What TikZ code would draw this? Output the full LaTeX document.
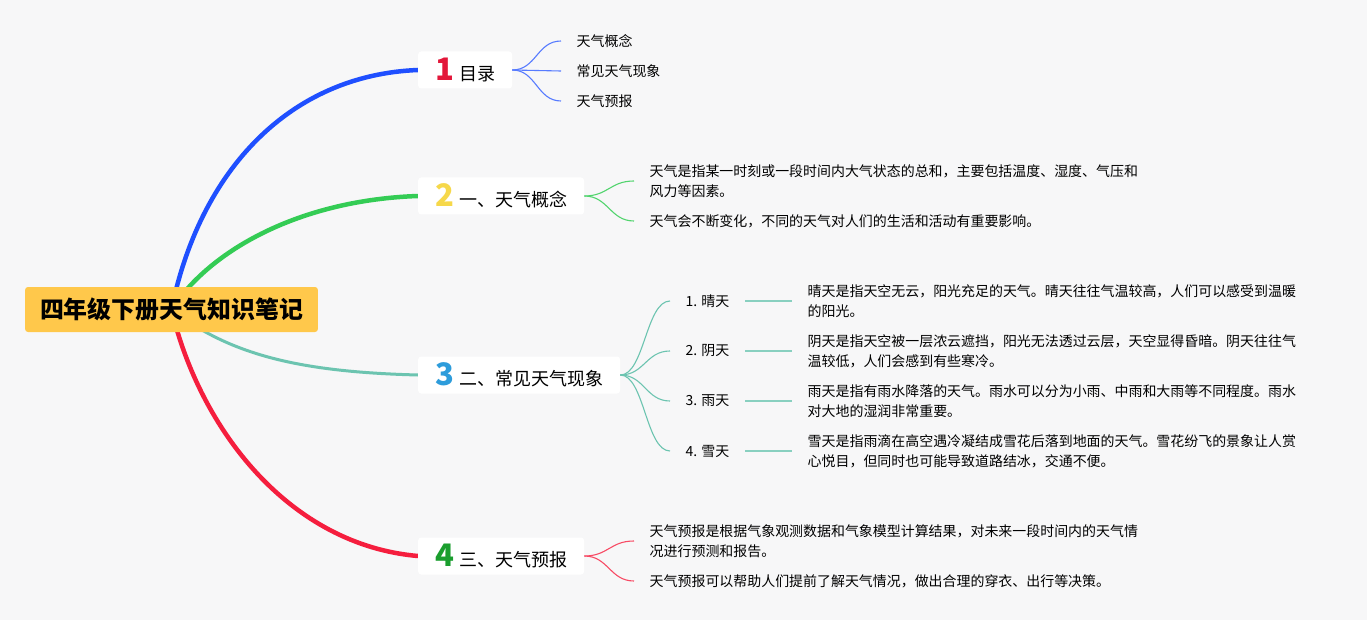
\documentclass[tikz,border=0pt]{standalone}
\usepackage{fontspec}
\setmainfont{Noto Sans CJK SC}
\usepackage{tikz}
\usetikzlibrary{positioning, backgrounds}
\definecolor{bgcol}{HTML}{F7F7F8}
\definecolor{rootcol}{HTML}{FFC84B}
\definecolor{bluecol}{HTML}{1F4FFF}
\definecolor{greencol}{HTML}{34CC55}
\definecolor{tealcol}{HTML}{6CC4B0}
\definecolor{redcol}{HTML}{F51E3E}
\definecolor{numred}{HTML}{E3173A}
\definecolor{numyellow}{HTML}{F6D84A}
\definecolor{numblue}{HTML}{2D9CDB}
\definecolor{numgreen}{HTML}{1A9E2E}
\tikzset{
  rootbox/.style={
    rectangle,
    fill=rootcol,
    rounded corners=3pt,
    inner xsep=15pt,
    minimum height=45pt,
    font=\fontsize{23.9}{28}\selectfont\bfseries
  },
  topic/.style={
    rectangle,
    fill=white,
    rounded corners=3pt,
    anchor=west,
    inner xsep=17pt,
    minimum height=37pt,
    font=\fontsize{18}{21}\selectfont
  },
  leaf/.style={
    anchor=west,
    inner xsep=15.5pt,
    inner ysep=2pt,
    align=left,
    font=\fontsize{13.95}{20}\selectfont
  },
  twig/.style={
    line width=1.1pt
  }
}
\newcommand{\topicnum}[2]{{\color{#1}\fontsize{31}{31}\selectfont\bfseries #2}\hspace{5pt}}

\begin{document}
\begin{tikzpicture}[x=1pt, y=-1pt]
  \path[use as bounding box] (0,0) rectangle (1367,620);

  % Root
  \node[rootbox] (root) at (171.5,309.5) {四年级下册天气知识笔记};

  % Topics
  \node[topic] (toc) at (418,70) {\topicnum{numred}{1}目录};
  \node[topic] (concept) at (418,196) {\topicnum{numyellow}{2}一、天气概念};
  \node[topic] (common) at (418,375) {\topicnum{numblue}{3}二、常见天气现象};
  \node[topic] (forecast) at (418,556) {\topicnum{numgreen}{4}三、天气预报};

  % Leaves of topic 1
  \node[leaf] (toc1) at (561,41) {天气概念};
  \node[leaf] (toc2) at (561,71) {常见天气现象};
  \node[leaf] (toc3) at (561,101) {天气预报};

  % Leaves of topic 2
  \node[leaf] (concept1) at (634,181) {天气是指某一时刻或一段时间内大气状态的总和，主要包括温度、湿度、气压和\\风力等因素。};
  \node[leaf] (concept2) at (634,221) {天气会不断变化，不同的天气对人们的生活和活动有重要影响。};

  % Leaves of topic 3
  \node[leaf] (sunny) at (670,301) {1. 晴天};
  \node[leaf] (cloudy) at (670,351) {2. 阴天};
  \node[leaf] (rainy) at (670,401) {3. 雨天};
  \node[leaf] (snowy) at (670,451) {4. 雪天};
  \node[leaf] (sunnytxt) at (792,301) {晴天是指天空无云，阳光充足的天气。晴天往往气温较高，人们可以感受到温暖\\的阳光。};
  \node[leaf] (cloudytxt) at (792,351) {阴天是指天空被一层浓云遮挡，阳光无法透过云层，天空显得昏暗。阴天往往气\\温较低，人们会感到有些寒冷。};
  \node[leaf] (rainytxt) at (792,401) {雨天是指有雨水降落的天气。雨水可以分为小雨、中雨和大雨等不同程度。雨水\\对大地的湿润非常重要。};
  \node[leaf] (snowytxt) at (792,451) {雪天是指雨滴在高空遇冷凝结成雪花后落到地面的天气。雪花纷飞的景象让人赏\\心悦目，但同时也可能导致道路结冰，交通不便。};

  % Leaves of topic 4
  \node[leaf] (forecast1) at (634,541) {天气预报是根据气象观测数据和气象模型计算结果，对未来一段时间内的天气情\\况进行预测和报告。};
  \node[leaf] (forecast2) at (634,581) {天气预报可以帮助人们提前了解天气情况，做出合理的穿衣、出行等决策。};

  \begin{scope}[on background layer]
    \fill[bgcol] (0,0) rectangle (1367,620);

    % Main branches
    \draw[bluecol, line width=4.5pt] (root.center) .. controls +(28.5,-139.5) and +(-128,5) .. (toc.west);
    \draw[greencol, line width=4.5pt] (root.center) .. controls +(38.5,-59.5) and +(-118,4) .. (concept.west);
    \draw[tealcol, line width=3pt] (root.center) .. controls +(58.5,45.5) and +(-118,-3) .. (common.west);
    \draw[redcol, line width=4.5pt] (root.center) .. controls +(28.5,120.5) and +(-128,-11) .. (forecast.west);
  \end{scope}

  % Twigs
  \foreach \leafname in {toc1, toc2, toc3}
    \draw[twig, bluecol!75] (toc.east) .. controls +(24,0) and +(-24,0) .. (\leafname.west);
  \foreach \leafname in {concept1, concept2}
    \draw[twig, greencol!85] (concept.east) .. controls +(24,0) and +(-24,0) .. (\leafname.west);
  \foreach \leafname in {sunny, cloudy, rainy, snowy}
    \draw[twig, tealcol] (common.east) .. controls +(24,0) and +(-24,0) .. (\leafname.west);
  \foreach \leafname/\txtname in {sunny/sunnytxt, cloudy/cloudytxt, rainy/rainytxt, snowy/snowytxt}
    \draw[tealcol!80, line width=2pt] (\leafname.east) -- (\txtname.west);
  \foreach \leafname in {forecast1, forecast2}
    \draw[twig, redcol!80] (forecast.east) .. controls +(24,0) and +(-24,0) .. (\leafname.west);
\end{tikzpicture}
\end{document}
